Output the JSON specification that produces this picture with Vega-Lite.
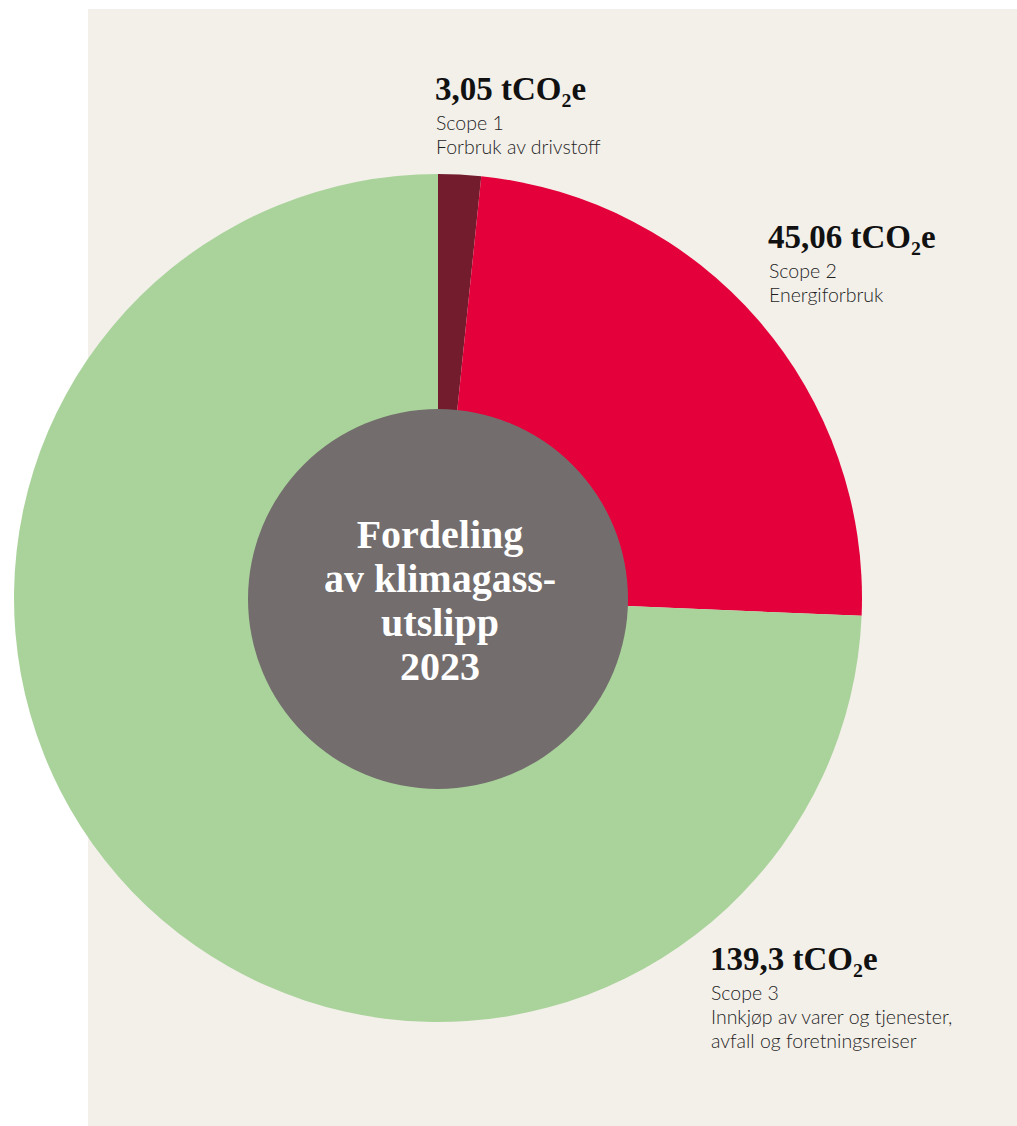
{
  "$schema": "https://vega.github.io/schema/vega-lite/v6.json",
  "width": 1017,
  "height": 1126,
  "autosize": {"type": "fit", "contains": "padding"},
  "padding": 0,
  "background": "#ffffff",
  "config": {"view": {"stroke": null}},
  "data": {
    "values": [
      {"scope": "Scope 1", "value": 3.05, "label": "3,05 tCO₂e", "desc": ["Scope 1", "Forbruk av drivstoff"]},
      {"scope": "Scope 2", "value": 45.06, "label": "45,06 tCO₂e", "desc": ["Scope 2", "Energiforbruk"]},
      {"scope": "Scope 3", "value": 139.3, "label": "139,3 tCO₂e", "desc": ["Scope 3", "Innkjøp av varer og tjenester,", "avfall og foretningsreiser"]}
    ]
  },
  "layer": [
    {
      "mark": {"type": "rect", "color": "#f3f0ea"},
      "encoding": {
        "x": {"datum": 88, "type": "quantitative", "scale": {"domain": [0, 1017], "nice": false, "zero": false}, "axis": null},
        "x2": {"datum": 1017},
        "y": {"datum": 9, "type": "quantitative", "scale": {"domain": [0, 1126], "nice": false, "zero": false, "reverse": true}, "axis": null},
        "y2": {"datum": 1126}
      }
    },
    {
      "mark": {"type": "arc", "outerRadius": 424, "innerRadius": 0, "stroke": null},
      "encoding": {
        "theta": {"field": "value", "type": "quantitative", "stack": true},
        "color": {"field": "scope", "type": "nominal", "scale": {"domain": ["Scope 1", "Scope 2", "Scope 3"], "range": ["#731c2e", "#e4003a", "#aad39b"]}, "legend": null},
        "order": {"field": "scope", "sort": "ascending"},
        "x": {"datum": 438, "type": "quantitative"},
        "y": {"datum": 598, "type": "quantitative"}
      }
    },
    {
      "transform": [{"filter": "datum.scope === 'Scope 1'"}],
      "mark": {"type": "arc", "outerRadius": 190, "innerRadius": 0, "color": "#736e6d", "stroke": null, "theta": 0, "theta2": 6.2832},
      "encoding": {
        "x": {"datum": 438, "type": "quantitative"},
        "y": {"datum": 599, "type": "quantitative"}
      }
    },
    {
      "transform": [{"filter": "datum.scope === 'Scope 1'"}],
      "mark": {"type": "text", "text": ["Fordeling", "av klimagass-", "utslipp", "2023"], "font": "Liberation Serif", "fontWeight": "bold", "fontSize": 40, "lineHeight": 44, "color": "#ffffff", "align": "center", "baseline": "alphabetic"},
      "encoding": {
        "x": {"datum": 440, "type": "quantitative"},
        "y": {"datum": 548, "type": "quantitative"}
      }
    },
    {
      "transform": [{"filter": "datum.scope === 'Scope 1'"}],
      "mark": {"type": "text", "font": "Liberation Serif", "fontWeight": "bold", "fontSize": 33, "color": "#111111", "align": "left", "baseline": "alphabetic"},
      "encoding": {
        "text": {"field": "label"},
        "x": {"datum": 435, "type": "quantitative"},
        "y": {"datum": 100, "type": "quantitative"}
      }
    },
    {
      "transform": [{"filter": "datum.scope === 'Scope 1'"}],
      "mark": {"type": "text", "font": "Lato", "fontWeight": 300, "fontSize": 19.5, "lineHeight": 24, "color": "#1e1e1e", "align": "left", "baseline": "alphabetic"},
      "encoding": {
        "text": {"field": "desc"},
        "x": {"datum": 436, "type": "quantitative"},
        "y": {"datum": 130, "type": "quantitative"}
      }
    },
    {
      "transform": [{"filter": "datum.scope === 'Scope 2'"}],
      "mark": {"type": "text", "font": "Liberation Serif", "fontWeight": "bold", "fontSize": 33, "color": "#111111", "align": "left", "baseline": "alphabetic"},
      "encoding": {
        "text": {"field": "label"},
        "x": {"datum": 768, "type": "quantitative"},
        "y": {"datum": 248, "type": "quantitative"}
      }
    },
    {
      "transform": [{"filter": "datum.scope === 'Scope 2'"}],
      "mark": {"type": "text", "font": "Lato", "fontWeight": 300, "fontSize": 19.5, "lineHeight": 24, "color": "#1e1e1e", "align": "left", "baseline": "alphabetic"},
      "encoding": {
        "text": {"field": "desc"},
        "x": {"datum": 769, "type": "quantitative"},
        "y": {"datum": 278, "type": "quantitative"}
      }
    },
    {
      "transform": [{"filter": "datum.scope === 'Scope 3'"}],
      "mark": {"type": "text", "font": "Liberation Serif", "fontWeight": "bold", "fontSize": 33, "color": "#111111", "align": "left", "baseline": "alphabetic"},
      "encoding": {
        "text": {"field": "label"},
        "x": {"datum": 710, "type": "quantitative"},
        "y": {"datum": 970, "type": "quantitative"}
      }
    },
    {
      "transform": [{"filter": "datum.scope === 'Scope 3'"}],
      "mark": {"type": "text", "font": "Lato", "fontWeight": 300, "fontSize": 19.5, "lineHeight": 24, "color": "#1e1e1e", "align": "left", "baseline": "alphabetic"},
      "encoding": {
        "text": {"field": "desc"},
        "x": {"datum": 711, "type": "quantitative"},
        "y": {"datum": 1000, "type": "quantitative"}
      }
    }
  ]
}
